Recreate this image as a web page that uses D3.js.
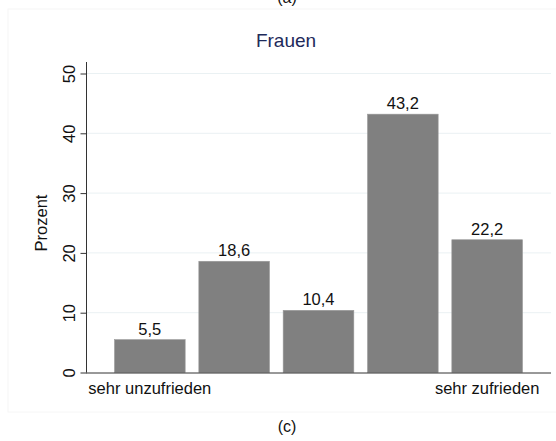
<!DOCTYPE html>
<html>
<head>
<meta charset="utf-8">
<script src="https://cdn.jsdelivr.net/npm/d3@7"></script>
<style>
  body { margin: 0; background: #fff; }
  text { font-family: "Liberation Sans", Arial, Helvetica, sans-serif; }
</style>
</head>
<body>
<div id="chart"></div>
<script>
var categories = ["1", "2", "3", "4", "5"];
var values = [5.5, 18.6, 10.4, 43.2, 22.2];
var valueLabels = ["5,5", "18,6", "10,4", "43,2", "22,2"];
var yTicks = [0, 10, 20, 30, 40, 50];
var endLabels = [{cat: "1", text: "sehr unzufrieden"}, {cat: "5", text: "sehr zufrieden"}];

var W = 556, H = 441;

var svg = d3.select("#chart").append("svg")
    .attr("width", W)
    .attr("height", H);

// faint panel border
svg.append("rect")
    .attr("x", 8).attr("y", 9)
    .attr("width", 560).attr("height", 403)
    .attr("fill", "none")
    .attr("stroke", "#f6f6f6");

var x = d3.scaleBand()
    .domain(categories)
    .range([114.5, 522.5])
    .paddingInner(0.162)
    .paddingOuter(0);

var y = d3.scaleLinear()
    .domain([0, 50])
    .range([372.5, 73.5]);

// gridlines
svg.append("g").selectAll("line")
    .data(yTicks.filter(function(d) { return d > 0; }))
    .enter().append("line")
    .attr("x1", 87).attr("x2", 551)
    .attr("y1", function(d) { return y(d); })
    .attr("y2", function(d) { return y(d); })
    .attr("stroke", "#eaf1f3")
    .attr("stroke-width", 1);

// bars
svg.append("g").selectAll("rect")
    .data(values)
    .enter().append("rect")
    .attr("x", function(d, i) { return x(categories[i]); })
    .attr("width", x.bandwidth())
    .attr("y", function(d) { return y(d); })
    .attr("height", function(d) { return y(0) - y(d); })
    .attr("fill", "#808080")
    .attr("stroke", "#9a9a9a")
    .attr("stroke-width", 0.6);

// value labels
svg.append("g").selectAll("text")
    .data(values)
    .enter().append("text")
    .attr("x", function(d, i) { return x(categories[i]) + x.bandwidth() / 2; })
    .attr("y", function(d) { return y(d) - 5; })
    .attr("text-anchor", "middle")
    .attr("font-size", 16.5)
    .attr("fill", "#111")
    .text(function(d, i) { return valueLabels[i]; });

// y axis
var yAxis = d3.axisLeft(y).tickValues(yTicks).tickSize(6).tickPadding(6);
var gy = svg.append("g")
    .attr("transform", "translate(86.5,0)")
    .call(yAxis);
gy.select(".domain").attr("stroke", "#333").attr("d", "M0," + y(0) + "V62");
gy.selectAll(".tick line").attr("stroke", "#333");
gy.selectAll(".tick text")
    .attr("font-family", "Liberation Sans, Arial, sans-serif")
    .attr("font-size", 16.5)
    .attr("fill", "#111")
    .attr("text-anchor", "middle")
    .attr("x", 0)
    .attr("dy", 0)
    .attr("transform", "translate(-12,0) rotate(-90)");

// x axis line
svg.append("line")
    .attr("x1", 86).attr("x2", 551)
    .attr("y1", y(0) + 0.5).attr("y2", y(0) + 0.5)
    .attr("stroke", "#333");

// end labels
svg.append("g").selectAll("text")
    .data(endLabels)
    .enter().append("text")
    .attr("x", function(d) { return x(d.cat) + x.bandwidth() / 2; })
    .attr("y", 394)
    .attr("text-anchor", "middle")
    .attr("font-size", 16.5)
    .attr("fill", "#111")
    .text(function(d) { return d.text; });

// y title
svg.append("text")
    .attr("transform", "translate(47," + ((y(0) + y(50)) / 2) + ") rotate(-90)")
    .attr("text-anchor", "middle")
    .attr("font-size", 16.5)
    .attr("fill", "#111")
    .text("Prozent");

// title
svg.append("text")
    .attr("x", 286).attr("y", 47)
    .attr("text-anchor", "middle")
    .attr("font-size", 19)
    .attr("fill", "#1e2a5a")
    .text("Frauen");

// panel captions ("(a)" is cut by the top edge in the reference too)
svg.append("text")
    .attr("x", 287).attr("y", 3)
    .attr("text-anchor", "middle")
    .attr("font-family", "Liberation Serif, Times New Roman, serif")
    .attr("font-size", 16)
    .attr("fill", "#111")
    .text("(a)");

svg.append("text")
    .attr("x", 287).attr("y", 432)
    .attr("text-anchor", "middle")
    .attr("font-family", "Liberation Serif, Times New Roman, serif")
    .attr("font-size", 16)
    .attr("fill", "#111")
    .text("(c)");
</script>
</body>
</html>
